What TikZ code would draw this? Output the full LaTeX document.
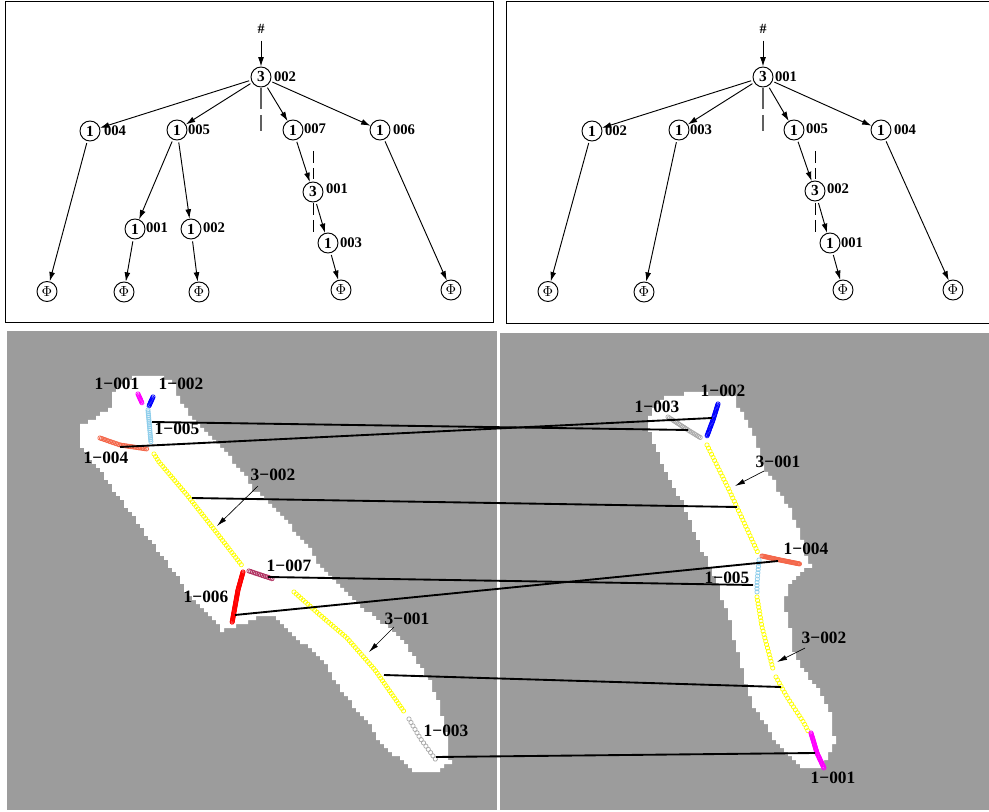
\documentclass[tikz,border=0pt]{standalone}
\usepackage{fontspec}
\setmainfont{Liberation Serif}
\usetikzlibrary{arrows.meta,decorations.markings}
\definecolor{panelgray}{HTML}{9C9C9C}
\definecolor{dashgray}{HTML}{606060}
\definecolor{tomatoc}{HTML}{F4674A}
\definecolor{skyc}{HTML}{8CCDEB}
\definecolor{maroonc}{HTML}{B03060}
\definecolor{grayc}{HTML}{AAAAAA}
\definecolor{magc}{HTML}{FF00FF}
\definecolor{bluec}{HTML}{0000FF}
\definecolor{redc}{HTML}{FF0000}
\definecolor{yelc}{HTML}{FFFF00}
\newcommand\stairfill[1]{%
  \foreach \x/\y [remember=\x as \px (initially 0), remember=\y as \py (initially 0), count=\i] in {#1} {%
    \ifnum\i=1
      \pgfmathtruncatemacro\qy{round(\y/4)*4}%
      \pgfmathtruncatemacro\qx{round(\x/4)*4}%
      \xdef\lasty{\qy}\xdef\acc{(\qx,\qy)}%
    \else
      \pgfmathtruncatemacro\n{max(1,max(abs(\x-\px),abs(\y-\py))/4)}%
      \foreach \k in {1,...,\n} {%
        \pgfmathtruncatemacro\qx{round((\px+(\x-\px)*\k/\n)/4)*4}%
        \pgfmathtruncatemacro\qy{round((\py+(\y-\py)*\k/\n)/4)*4}%
        \xdef\acc{\acc -- (\qx,\lasty) -- (\qx,\qy)}%
        \xdef\lasty{\qy}%
      }%
    \fi
  }%
  \edef\tmpfill{\noexpand\fill[white] \acc -- cycle;}\tmpfill
}
\tikzset{
  x=0.75pt,y=-0.75pt,
  panel/.style={draw=black,line width=0.75pt,fill=white},
  tn/.style={circle,draw=black,line width=0.7pt,minimum size=15pt,inner sep=0pt,font=\bfseries\fontsize{11.5}{11.5}\selectfont},
  phin/.style={circle,draw=black,line width=0.7pt,minimum size=15pt,inner sep=0pt,font=\fontsize{10.5}{10.5}\selectfont},
  tl/.style={inner sep=0pt,font=\bfseries\fontsize{11}{11}\selectfont},
  hashn/.style={inner sep=3.5pt,font=\bfseries\fontsize{10.5}{10.5}\selectfont},
  te/.style={draw=black,line width=0.7pt,shorten <=1.5pt,-{Latex[length=7pt,width=4.4pt]}},
  dshA/.style={draw=dashgray,line width=0.8pt,dash pattern=on 15.75pt off 4.5pt},
  dshB/.style={draw=black,line width=0.6pt,dash pattern=on 9pt off 3.75pt},
  ml/.style={inner sep=0pt,font=\bfseries\fontsize{13}{13}\selectfont},
  mp/.style={draw=black,line width=1.4pt},
  ma/.style={draw=black,line width=0.5pt,-{Latex[length=7.5pt,width=3.8pt]}},
  beads/.style n args={2}{decorate,decoration={markings,mark=between positions 0 and 1 step #2pt with {\draw[#1,line width=0.55pt] (0,0) circle (1.6pt);}}},
}
\begin{document}
\begin{tikzpicture}
\useasboundingbox (0,0) rectangle (989,812);
\fill[white] (0,0) rectangle (989,812);
% top panels
\path[panel] (5,2) rectangle (493,323);
\draw[line width=0.75pt] (989,2) -- (506.5,2) -- (506.5,324) -- (989,324);
% left tree
\node[hashn] (ah) at (261,29) {\#};
\node[tn] (a3) at (261,77) {3};
\node[tl] (a3l) at (285,77) {002};
\node[tn] (a4) at (90,131) {1};
\node[tl] (a4l) at (115,131) {004};
\node[tn] (a5) at (177,130) {1};
\node[tl] (a5l) at (199,130) {005};
\node[tn] (a7) at (293,130) {1};
\node[tl] (a7l) at (315,129) {007};
\node[tn] (a6) at (380,130) {1};
\node[tl] (a6l) at (404,130) {006};
\node[tn] (a31) at (313,192) {3};
\node[tl] (a31l) at (337,189) {001};
\node[tn] (a1) at (135,229) {1};
\node[tl] (a1l) at (157,228) {001};
\node[tn] (a2) at (191,229) {1};
\node[tl] (a2l) at (214,228) {002};
\node[tn] (a33) at (328,243) {1};
\node[tl] (a33l) at (351,243) {003};
\node[phin] (ap1) at (47,291.5) {$\Phi$};
\node[phin] (ap2) at (124,292) {$\Phi$};
\node[phin] (ap3) at (199,292) {$\Phi$};
\node[phin] (ap4) at (341,290) {$\Phi$};
\node[phin] (ap5) at (451,290) {$\Phi$};
\coordinate (ad1a) at (261,88); \coordinate (ad1b) at (261,131);
\coordinate (ad2a) at (313.5,151); \coordinate (ad2b) at (313.5,179);
\coordinate (ad3a) at (313.5,203); \coordinate (ad3b) at (313.5,232);
\draw[dshA] (ad1a) -- (ad1b);
\draw[dshB] (ad2a) -- (ad2b);
\draw[dshB] (ad3a) -- (ad3b);
\draw[te] (ah) -- (a3);
\draw[te] (a3) -- (a4);
\draw[te] (a3) -- (a5);
\draw[te] (a3) -- (a7);
\draw[te] (a3) -- (a6);
\draw[te] (a4) -- (ap1);
\draw[te] (a5) -- (a1);
\draw[te] (a5) -- (a2);
\draw[te] (a1) -- (ap2);
\draw[te] (a2) -- (ap3);
\draw[te] (a7) -- (a31);
\draw[te] (a31) -- (a33);
\draw[te] (a33) -- (ap4);
\draw[te] (a6) -- (ap5);
% right tree
\node[hashn] (bh) at (763,29) {\#};
\node[tn] (b3) at (763,77) {3};
\node[tl] (b3l) at (786,77) {001};
\node[tn] (b2) at (592,131) {1};
\node[tl] (b2l) at (616,131) {002};
\node[tn] (b31) at (679,130) {1};
\node[tl] (b31l) at (701,130) {003};
\node[tn] (b5) at (794,130) {1};
\node[tl] (b5l) at (817,129) {005};
\node[tn] (b4) at (881,130) {1};
\node[tl] (b4l) at (905,130) {004};
\node[tn] (b32) at (815,191) {3};
\node[tl] (b32l) at (838,189) {002};
\node[tn] (b1) at (830,243) {1};
\node[tl] (b1l) at (852,243) {001};
\node[phin] (bp1) at (548,291.5) {$\Phi$};
\node[phin] (bp2) at (644,292) {$\Phi$};
\node[phin] (bp3) at (843,290) {$\Phi$};
\node[phin] (bp4) at (953,290) {$\Phi$};
\coordinate (bd1a) at (763,88); \coordinate (bd1b) at (763,131);
\coordinate (bd2a) at (815.5,151); \coordinate (bd2b) at (815.5,179);
\coordinate (bd3a) at (815.5,203); \coordinate (bd3b) at (815.5,232);
\draw[dshA] (bd1a) -- (bd1b);
\draw[dshB] (bd2a) -- (bd2b);
\draw[dshB] (bd3a) -- (bd3b);
\draw[te] (bh) -- (b3);
\draw[te] (b3) -- (b2);
\draw[te] (b3) -- (b31);
\draw[te] (b3) -- (b5);
\draw[te] (b3) -- (b4);
\draw[te] (b2) -- (bp1);
\draw[te] (b31) -- (bp2);
\draw[te] (b5) -- (b32);
\draw[te] (b32) -- (b1);
\draw[te] (b1) -- (bp3);
\draw[te] (b4) -- (bp4);
% gray panels
\fill[panelgray] (7,331) rectangle (497,810);
\fill[panelgray] (500,333) rectangle (989,810);
% silhouettes
\stairfill{130/377,160/377,175/390,180/402,192/418,210/438,227/455,240/473,253/490,273/507,293/530,310/550,317/563,333/580,353/600,370/615,390/633,407/647,417/663,430/683,440/710,447/737,450/763,440/772,417/772,387/747,367/720,347/697,330/670,310/648,290/633,275/617,260/617,237/628,223/630,207/613,187/590,163/557,137/520,110/483,93/460,80/443,80/425,93/418,113/407,113/390,130/377}
\stairfill{662/395,700/393,733/397,740/412,753/437,763/467,777/490,790/513,800/537,810/567,787/587,785/610,790/633,792/650,803/670,820/693,830/717,835/743,827/760,823/767,805/767,783/747,763/720,748/693,743/673,737/647,728/613,720/590,712/567,703/553,687/510,668/477,655/442,647/425,650/412,662/395}
% strokes left
\path[beads={magc}{0.9}] (138,394) -- (142,403);
\path[beads={bluec}{0.9}] (153,397) -- (149,406);
\path[beads={skyc}{1.4}] (148,410) -- (151,443);
\path[beads={tomatoc}{1.2}] (100,438) -- (120,445) -- (147,449);
\path[beads={yelc}{2.3}] (154,454) -- (159,462) -- (187,495) -- (213,528) -- (243,567);
\path[beads={redc}{0.7}] (243,572) -- (238,590) -- (232,623);
\path[beads={maroonc}{1.3}] (249,571) -- (273,579);
\path[beads={yelc}{2.3}] (294,592) -- (320,615) -- (347,638) -- (375,670) -- (405,713);
\path[beads={grayc}{3}] (409,719) -- (420,738) -- (436,760);
% strokes right
\path[beads={bluec}{0.9}] (718,404) -- (713,420) -- (707,436);
\path[beads={grayc}{1.3}] (668,417) -- (688,430) -- (701,438);
\path[beads={yelc}{2.6}] (707,445) -- (730,492) -- (758,553);
\path[beads={tomatoc}{0.7}] (762,556) -- (780,560) -- (800,564);
\path[beads={skyc}{2.4}] (759,560) -- (757,583) -- (757,595);
\path[beads={yelc}{2.6}] (757,597) -- (762,627) -- (773,669);
\path[beads={yelc}{2.6}] (776,677) -- (787,697) -- (804,723) -- (808,731);
\path[beads={magc}{0.7}] (811,733) -- (817,753) -- (824,768);
% match endpoints
\coordinate (ma) at (152,422); \coordinate (mb) at (688,430);
\coordinate (mc) at (120,447); \coordinate (md) at (712,418);
\coordinate (me) at (192,498); \coordinate (mf) at (737,507);
\coordinate (mg) at (268,577); \coordinate (mh) at (753,585);
\coordinate (mi) at (235,615); \coordinate (mj) at (778,561);
\coordinate (mk) at (384,675); \coordinate (ml) at (781,687);
\coordinate (mm) at (436,757); \coordinate (mn) at (815,753);
\draw[mp] (ma) -- (mb);
\draw[mp] (mc) -- (md);
\draw[mp] (me) -- (mf);
\draw[mp] (mg) -- (mh);
\draw[mp] (mi) -- (mj);
\draw[mp] (mk) -- (ml);
\draw[mp] (mm) -- (mn);
% labels left
\node[ml] (t1) at (117,384) {1−001};
\node[ml] (t2) at (181,384) {1−002};
\node[ml] (t3) at (177,429) {1−005};
\node[ml] (t4) at (106,458) {1−004};
\node[ml] (t5) at (273,475) {3−002};
\node[ml] (t6) at (289,566) {1−007};
\node[ml] (t7) at (206,597) {1−006};
\node[ml] (t8) at (407,619) {3−001};
\node[ml] (t9) at (446,731) {1−003};
% labels right
\node[ml] (u1) at (723,391) {1−002};
\node[ml] (u2) at (657,407) {1−003};
\node[ml] (u3) at (778,462) {3−001};
\node[ml] (u4) at (806,549) {1−004};
\node[ml] (u5) at (727,578) {1−005};
\node[ml] (u6) at (824,638) {3−002};
\node[ml] (u7) at (833,778) {1−001};
% pointer arrows
\coordinate (p1) at (217,526); \coordinate (p2) at (369,652);
\coordinate (p3) at (735,486); \coordinate (p4) at (777,662);
\draw[ma] (t5) ++(-15,11) -- (p1);
\draw[ma] (t8) ++(-13,8) -- (p2);
\draw[ma] (u3) ++(-14,9) -- (p3);
\draw[ma] (u6) ++(-19,10) -- (p4);
\end{tikzpicture}
\end{document}
